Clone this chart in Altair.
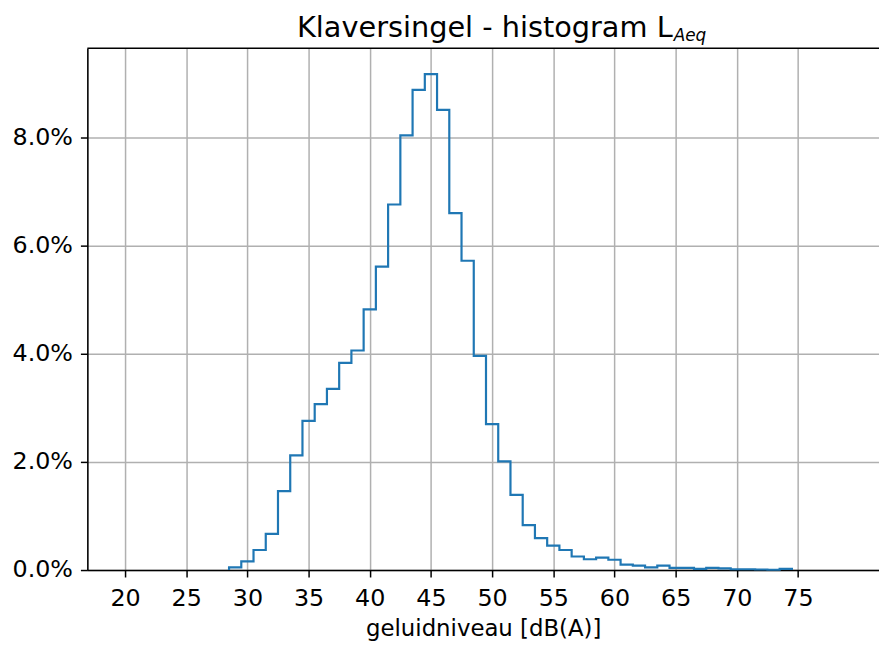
import altair as alt
import pandas as pd

# Histogram bins (centres, 1 dB wide) and their share in percent
bin_centres = list(range(29, 75))
bin_percent = [
    0.05, 0.16, 0.37, 0.67, 1.46, 2.12, 2.76, 3.07, 3.35, 3.83,
    4.06, 4.82, 5.61, 6.76, 8.04, 8.88, 9.17, 8.51, 6.60, 5.72,
    3.96, 2.70, 2.01, 1.39, 0.83, 0.59, 0.45, 0.37, 0.25, 0.20,
    0.23, 0.19, 0.10, 0.08, 0.05, 0.08, 0.04, 0.04, 0.02, 0.04,
    0.03, 0.015, 0.015, 0.01, 0.005, 0.02,
]
x_ticks = [20, 25, 30, 35, 40, 45, 50, 55, 60, 65, 70, 75]
y_ticks = [0.0, 0.02, 0.04, 0.06, 0.08]
title_main = "Klaversingel - histogram L"
title_sub = "Aeq"
x_title = "geluidniveau [dB(A)]"

# step outline (matplotlib histtype='step')
half = 0.5
xs = [bin_centres[0] - half]
ys = [0.0]
for c, p in zip(bin_centres, bin_percent):
    xs.append(c - half)
    ys.append(p / 100.0)
xs.append(bin_centres[-1] + half)
ys.append(0.0)
df = pd.DataFrame({"x": xs, "y": ys, "i": range(len(xs))})

W, H = 798, 526
FONT = "DejaVu Sans"

line = alt.Chart(df).mark_line(
    interpolate="step-after", color="#1f77b4", strokeWidth=2.2
).encode(
    x=alt.X("x:Q", scale=alt.Scale(domain=[16.92, 81.62], nice=False, zero=False),
            axis=alt.Axis(values=x_ticks, title=x_title, format="d",
                          labelPadding=10, titleFontSize=23, titlePadding=7)),
    y=alt.Y("y:Q", scale=alt.Scale(domain=[0, 0.0965], nice=False),
            axis=alt.Axis(values=y_ticks, format=".1%", title=None,
                          labelPadding=8)),
    order="i:Q",
)

top_rule = alt.Chart(pd.DataFrame({"a": [0]})).mark_rule(
    color="black", strokeWidth=1.6
).encode(x=alt.value(0), x2=alt.value(W), y=alt.value(0))

t1 = alt.Chart(pd.DataFrame({"t": [title_main]})).mark_text(
    font=FONT, fontSize=29, align="right", baseline="alphabetic", color="black"
).encode(text="t:N", x=alt.value(590), y=alt.value(-11))

t2 = alt.Chart(pd.DataFrame({"t": [title_sub]})).mark_text(
    font=FONT, fontSize=17, fontStyle="italic", align="left",
    baseline="alphabetic", color="black"
).encode(text="t:N", x=alt.value(591), y=alt.value(-7))

chart = alt.layer(line, top_rule, t1, t2).properties(
    width=W, height=H, autosize="none",
    padding={"left": 80, "top": 38, "right": 0, "bottom": 72},
).configure_view(stroke=None).configure_axis(
    labelFont=FONT, titleFont=FONT, labelFontSize=24, titleFontSize=24,
    labelColor="black", titleColor="black", titleFontWeight="normal",
    domainColor="black", domainWidth=1.6, tickColor="black", tickWidth=1.5,
    tickSize=7, gridColor="#b0b0b0", gridWidth=1.5, grid=True,
)

chart.save("out.html", embed_options={"renderer": "svg", "actions": False})
